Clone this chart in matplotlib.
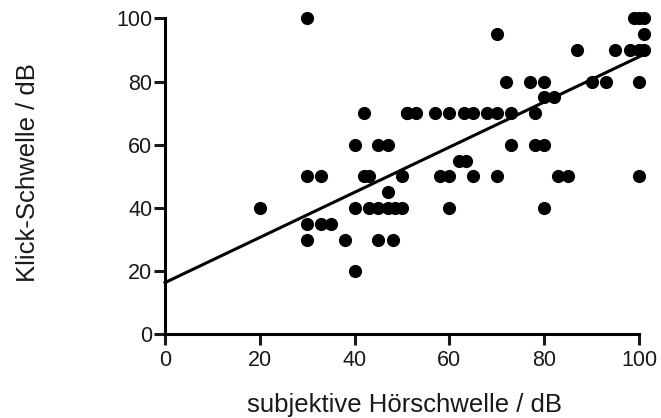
import matplotlib
matplotlib.use("Agg")
import matplotlib.pyplot as plt
import numpy as np

# subjective hearing threshold (x) vs click threshold (y), both in dB
x_hoer = [30, 42, 51, 40, 45, 47, 30, 33, 42, 43,
          70, 99, 100, 101, 101, 87, 95, 98, 100, 101,
          72, 77, 80, 90, 93, 100, 80, 82,
          51, 53, 57, 60, 63, 65, 68, 70, 73, 78,
          73, 78, 80, 62, 63.5,
          50, 58, 60, 65, 70, 83, 85, 100,
          47, 20, 40, 43, 45, 47, 48.5, 50, 60, 80,
          30, 33, 35, 30, 38, 45, 48, 40]
y_klick = [100, 70, 70, 60, 60, 60, 50, 50, 50, 50,
           95, 100, 100, 100, 95, 90, 90, 90, 90, 90,
           80, 80, 80, 80, 80, 80, 75, 75,
           70, 70, 70, 70, 70, 70, 70, 70, 70, 70,
           60, 60, 60, 55, 55,
           50, 50, 50, 50, 50, 50, 50, 50,
           45, 40, 40, 40, 40, 40, 40, 40, 40, 40,
           35, 35, 35, 30, 30, 30, 30, 20]

# regression line as printed in the figure
fit_intercept = 16.4
fit_slope = 0.714
fit_xmax = 101

plt.rcParams["font.family"] = ["Liberation Sans", "DejaVu Sans"]

fig = plt.figure(figsize=(6.61, 4.18), dpi=100)
ax = fig.add_axes([0.2496, 0.1998, 0.7171, 0.7565])

ax.scatter(x_hoer, y_klick, s=90, color="black", linewidths=0,
           clip_on=False, zorder=3)
xl = np.array([0, fit_xmax])
ax.plot(xl, fit_intercept + fit_slope * xl, color="black", linewidth=2.2,
        clip_on=False, zorder=2)

ax.set_xlim(0, 100)
ax.set_ylim(0, 100)
ax.set_xticks([0, 20, 40, 60, 80, 100])
ax.set_yticks([0, 20, 40, 60, 80, 100])

for side in ["top", "right"]:
    ax.spines[side].set_visible(False)
for side in ["left", "bottom"]:
    ax.spines[side].set_linewidth(2.2)
ax.tick_params(width=2.2, length=8, labelsize=15.5, colors="#1a1a1a")
ax.tick_params(axis="x", pad=3)
ax.tick_params(axis="y", pad=1)

ax.set_xlabel("subjektive Hörschwelle / dB", fontsize=18.5, color="#1a1a1a")
ax.set_ylabel("Klick-Schwelle / dB", fontsize=18.5, color="#1a1a1a")
ax.xaxis.set_label_coords(0.506, -0.185)
ax.yaxis.set_label_coords(-0.263, 0.512)

fig.savefig("out.png", dpi=100)
